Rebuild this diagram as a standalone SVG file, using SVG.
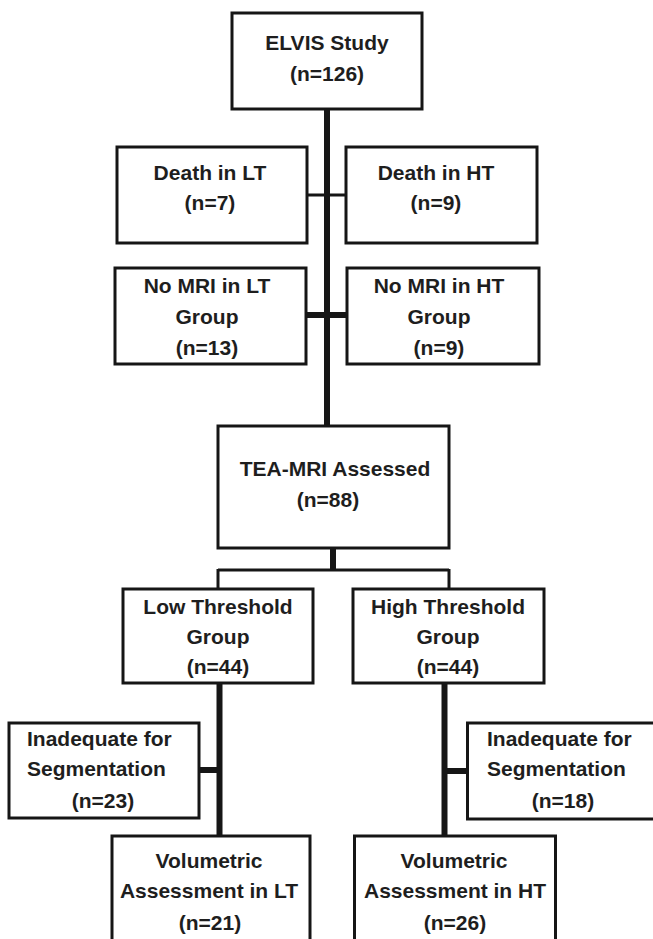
<svg xmlns="http://www.w3.org/2000/svg" width="653" height="939" viewBox="0 0 653 939">
<style>
.box{fill:#fff;stroke:#161616;stroke-width:3}
.t{font-family:"Liberation Sans",Arial,sans-serif;font-weight:700;font-size:21px;fill:#1e1e1e;text-anchor:middle}
.s{text-anchor:start}
.c{stroke:#161616;fill:none;stroke-linecap:butt}
.thick{stroke-width:6}
.thin{stroke-width:3}
</style>
<rect width="653" height="939" fill="#fff"/>
<g id="connectors">
<line class="c thick" x1="327" y1="109" x2="327" y2="426"/>
<line class="c thin" x1="307" y1="195" x2="346" y2="195"/>
<line class="c thick" x1="306" y1="315" x2="347" y2="315"/>
<line class="c thick" x1="333" y1="548" x2="333" y2="570"/>
<line class="c thin" x1="218" y1="570" x2="449" y2="570"/>
<line class="c thin" x1="218" y1="569" x2="218" y2="589"/>
<line class="c thin" x1="449" y1="569" x2="449" y2="589"/>
<line class="c thick" x1="219.5" y1="683" x2="219.5" y2="836"/>
<line class="c thick" x1="199" y1="770" x2="219.5" y2="770"/>
<line class="c thick" x1="444.5" y1="683" x2="444.5" y2="836"/>
<line class="c thick" x1="444.5" y1="771" x2="467.5" y2="771"/>
</g>
<g id="elvis">
<rect class="box" x="232" y="13" width="190" height="96"/>
<text class="t" x="327" y="50">ELVIS Study</text>
<text class="t" x="327" y="81">(n=126)</text>
</g>
<g id="death-lt">
<rect class="box" x="117" y="147" width="190" height="96"/>
<text class="t" x="210" y="180">Death in LT</text>
<text class="t" x="210" y="210">(n=7)</text>
</g>
<g id="death-ht">
<rect class="box" x="346" y="147" width="191" height="96"/>
<text class="t" x="436" y="180">Death in HT</text>
<text class="t" x="436" y="210">(n=9)</text>
</g>
<g id="nomri-lt">
<rect class="box" x="115" y="268" width="191" height="96"/>
<text class="t" x="207" y="293">No MRI in LT</text>
<text class="t" x="207" y="324">Group</text>
<text class="t" x="207" y="355">(n=13)</text>
</g>
<g id="nomri-ht">
<rect class="box" x="347" y="268" width="192" height="96"/>
<text class="t" x="439" y="293">No MRI in HT</text>
<text class="t" x="439" y="324">Group</text>
<text class="t" x="439" y="355">(n=9)</text>
</g>
<g id="tea-mri">
<rect class="box" x="218" y="426" width="231" height="122"/>
<text class="t" x="335" y="476">TEA-MRI Assessed</text>
<text class="t" x="328" y="507">(n=88)</text>
</g>
<g id="low-threshold">
<rect class="box" x="123" y="589" width="190" height="94"/>
<text class="t" x="218" y="614">Low Threshold</text>
<text class="t" x="218" y="644">Group</text>
<text class="t" x="218" y="674">(n=44)</text>
</g>
<g id="high-threshold">
<rect class="box" x="353" y="589" width="191" height="94"/>
<text class="t" x="448" y="614">High Threshold</text>
<text class="t" x="448" y="644">Group</text>
<text class="t" x="448" y="674">(n=44)</text>
</g>
<g id="inadequate-lt">
<rect class="box" x="9" y="723" width="190" height="95"/>
<text class="t s" x="27" y="746">Inadequate for</text>
<text class="t s" x="27" y="776">Segmentation</text>
<text class="t" x="103" y="808">(n=23)</text>
</g>
<g id="inadequate-ht">
<rect class="box" x="467.5" y="723" width="200" height="96"/>
<text class="t s" x="487" y="746">Inadequate for</text>
<text class="t s" x="487" y="776">Segmentation</text>
<text class="t" x="563" y="808">(n=18)</text>
</g>
<g id="volumetric-lt">
<rect class="box" x="112" y="836" width="198" height="120"/>
<text class="t" x="209" y="868">Volumetric</text>
<text class="t" x="209" y="898">Assessment in LT</text>
<text class="t" x="210" y="930">(n=21)</text>
</g>
<g id="volumetric-ht">
<rect class="box" x="354.5" y="836" width="201" height="120"/>
<text class="t" x="454" y="868">Volumetric</text>
<text class="t" x="455" y="898">Assessment in HT</text>
<text class="t" x="455" y="930">(n=26)</text>
</g>
</svg>
